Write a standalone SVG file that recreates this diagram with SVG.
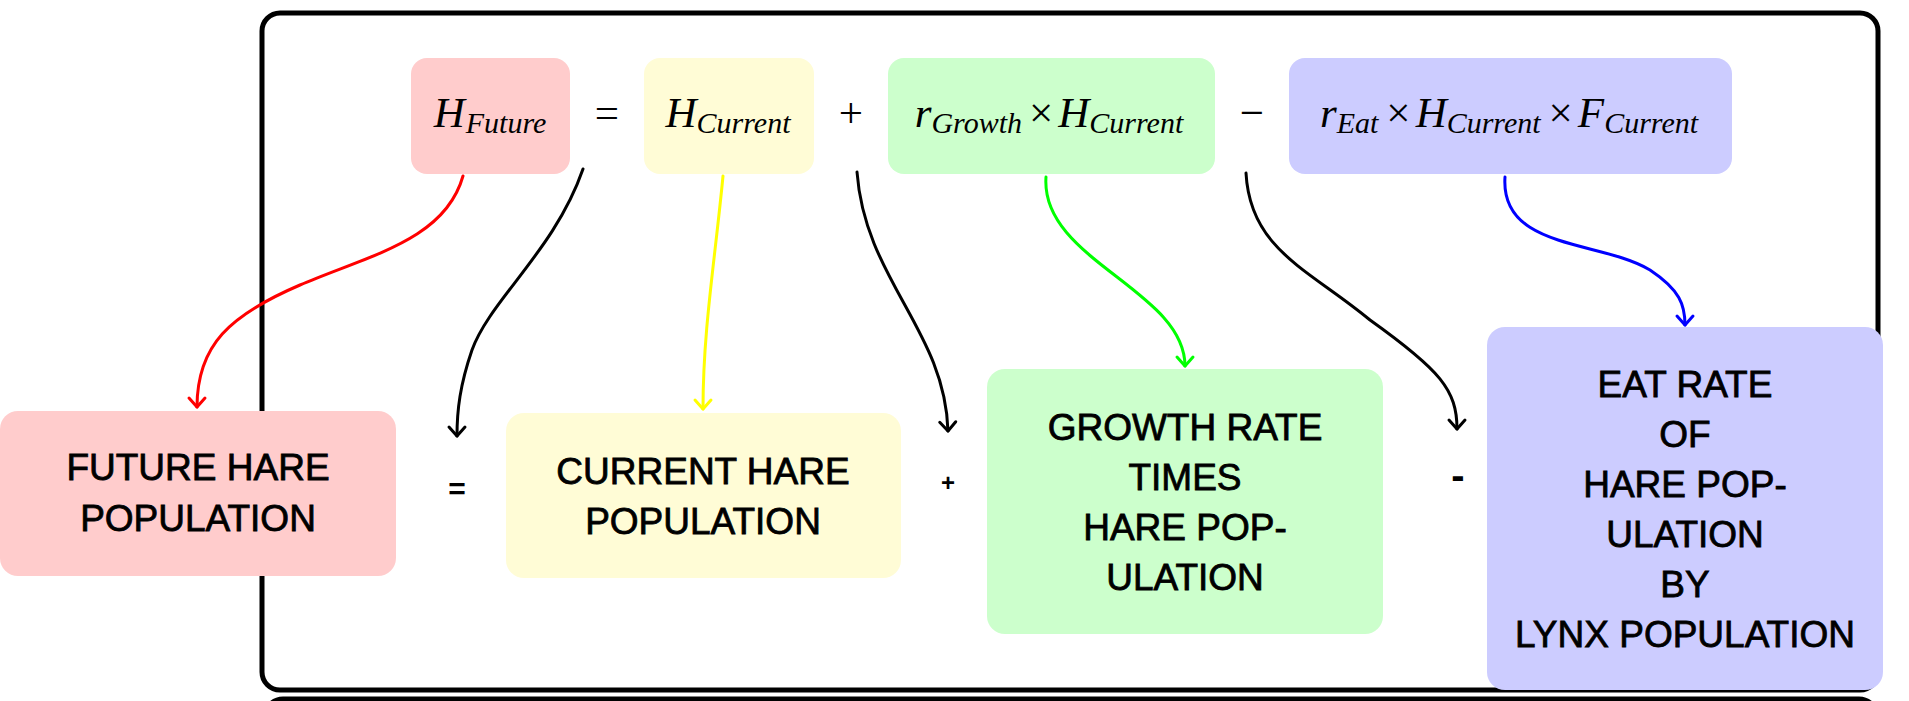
<svg xmlns="http://www.w3.org/2000/svg" width="1909" height="701" viewBox="0 0 1909 701">
<style>
.frame{fill:none;stroke:#000;stroke-width:5}
.math{font-family:"Liberation Serif","Times New Roman",serif;font-style:italic;font-size:43px;fill:#000}
.sub{font-size:30px}
.op{font-style:normal}
.lbl{font-family:"Liberation Sans",Arial,sans-serif;font-size:37px;fill:#000;stroke:#000;stroke-width:0.8;text-anchor:middle}
.sym{font-family:"Liberation Sans",Arial,sans-serif;font-weight:bold;fill:#000;text-anchor:middle}
.conn{fill:none;stroke-width:3;stroke-linecap:round}
.pink{fill:#ffcccc}.yellow{fill:#fffcd6}.green{fill:#ccffcc}.blue{fill:#ccccff}
</style>
<defs>
<marker id="ah-k" viewBox="-12 -12 24 24" markerWidth="24" markerHeight="24" markerUnits="userSpaceOnUse" orient="auto"><path d="M-9,-8 L0,0 L-9,8" fill="none" stroke="#000" stroke-width="3" stroke-linecap="round" stroke-linejoin="round"/></marker>
<marker id="ah-r" viewBox="-12 -12 24 24" markerWidth="24" markerHeight="24" markerUnits="userSpaceOnUse" orient="auto"><path d="M-9,-8 L0,0 L-9,8" fill="none" stroke="#ff0000" stroke-width="3" stroke-linecap="round" stroke-linejoin="round"/></marker>
<marker id="ah-y" viewBox="-12 -12 24 24" markerWidth="24" markerHeight="24" markerUnits="userSpaceOnUse" orient="auto"><path d="M-9,-8 L0,0 L-9,8" fill="none" stroke="#ffff00" stroke-width="3" stroke-linecap="round" stroke-linejoin="round"/></marker>
<marker id="ah-g" viewBox="-12 -12 24 24" markerWidth="24" markerHeight="24" markerUnits="userSpaceOnUse" orient="auto"><path d="M-9,-8 L0,0 L-9,8" fill="none" stroke="#00ff00" stroke-width="3" stroke-linecap="round" stroke-linejoin="round"/></marker>
<marker id="ah-b" viewBox="-12 -12 24 24" markerWidth="24" markerHeight="24" markerUnits="userSpaceOnUse" orient="auto"><path d="M-9,-8 L0,0 L-9,8" fill="none" stroke="#0000ff" stroke-width="3" stroke-linecap="round" stroke-linejoin="round"/></marker>
</defs>
<rect width="1909" height="701" fill="#fff"/>
<g id="frame">
<rect class="frame" x="262" y="13" width="1616" height="677" rx="18"/>
<rect class="frame" x="265" y="699" width="1612" height="100" rx="18"/>
</g>
<g id="eq-hfuture">
<rect class="pink" x="411" y="58" width="159" height="116" rx="16"/>
<text class="math" x="490" y="127" text-anchor="middle">H<tspan class="sub" dy="6" dx="1">Future</tspan></text>
</g>
<g id="eq-equals"><text class="math op" x="607" y="127" text-anchor="middle">=</text></g>
<g id="eq-hcurrent">
<rect class="yellow" x="644" y="58" width="170" height="116" rx="16"/>
<text class="math" x="728" y="127" text-anchor="middle">H<tspan class="sub" dy="6">Current</tspan></text>
</g>
<g id="eq-plus"><text class="math op" x="851" y="127" text-anchor="middle">+</text></g>
<g id="eq-growth">
<rect class="green" x="888" y="58" width="327" height="116" rx="16"/>
<text class="math" x="1049" y="127" text-anchor="middle">r<tspan class="sub" dy="6">Growth</tspan><tspan class="op" dy="-6" dx="7">×</tspan><tspan dx="5">H</tspan><tspan class="sub" dy="6">Current</tspan></text>
</g>
<g id="eq-minus"><text class="math op" x="1252" y="127" text-anchor="middle">−</text></g>
<g id="eq-eat">
<rect class="blue" x="1289" y="58" width="443" height="116" rx="16"/>
<text class="math" x="1509" y="127" text-anchor="middle">r<tspan class="sub" dy="6">Eat</tspan><tspan class="op" dy="-6" dx="8">×</tspan><tspan dx="5">H</tspan><tspan class="sub" dy="6">Current</tspan><tspan class="op" dy="-6" dx="8">×</tspan><tspan dx="5">F</tspan><tspan class="sub" dy="6">Current</tspan></text>
</g>
<g id="connectors">
<path class="conn" stroke="#ff0000" marker-end="url(#ah-r)" d="M463,176 C445,240 370,255 300,285 C230,315 197,345 197,407"/>
<path class="conn" stroke="#000" marker-end="url(#ah-k)" d="M583,169 C555,250 490,300 472,350 C460,385 457,410 457,436"/>
<path class="conn" stroke="#ffff00" marker-end="url(#ah-y)" d="M723,176 C715,260 703,330 703,409"/>
<path class="conn" stroke="#000" marker-end="url(#ah-k)" d="M857,172 C865,280 945,330 948,431"/>
<path class="conn" stroke="#00ff00" marker-end="url(#ah-g)" d="M1046,177 C1040,260 1185,290 1185,366"/>
<path class="conn" stroke="#000" marker-end="url(#ah-k)" d="M1246,173 C1250,250 1310,270 1370,320 C1440,370 1457,390 1457,429"/>
<path class="conn" stroke="#0000ff" marker-end="url(#ah-b)" d="M1505,177 C1500,250 1600,240 1650,270 C1680,290 1685,305 1685,325"/>
</g>
<g id="future-hare">
<rect class="pink" x="0" y="411" width="396" height="165" rx="18"/>
<text class="lbl" x="198" y="480">FUTURE HARE</text>
<text class="lbl" x="198" y="531">POPULATION</text>
</g>
<g id="sym-equals"><text class="sym" x="457" y="499" font-size="30">=</text></g>
<g id="current-hare">
<rect class="yellow" x="506" y="413" width="395" height="165" rx="18"/>
<text class="lbl" x="703" y="484">CURRENT HARE</text>
<text class="lbl" x="703" y="534">POPULATION</text>
</g>
<g id="sym-plus"><text class="sym" x="948" y="491" font-size="24">+</text></g>
<g id="growth">
<rect class="green" x="987" y="369" width="396" height="265" rx="18"/>
<text class="lbl" x="1185" y="440">GROWTH RATE</text>
<text class="lbl" x="1185" y="490">TIMES</text>
<text class="lbl" x="1185" y="540">HARE POP-</text>
<text class="lbl" x="1185" y="590">ULATION</text>
</g>
<g id="sym-minus"><text class="sym" x="1458" y="489" font-size="40">-</text></g>
<g id="eat">
<rect class="blue" x="1487" y="327" width="396" height="363" rx="18"/>
<text class="lbl" x="1685" y="397">EAT RATE</text>
<text class="lbl" x="1685" y="447">OF</text>
<text class="lbl" x="1685" y="497">HARE POP-</text>
<text class="lbl" x="1685" y="547">ULATION</text>
<text class="lbl" x="1685" y="597">BY</text>
<text class="lbl" x="1685" y="647">LYNX POPULATION</text>
</g>
</svg>
